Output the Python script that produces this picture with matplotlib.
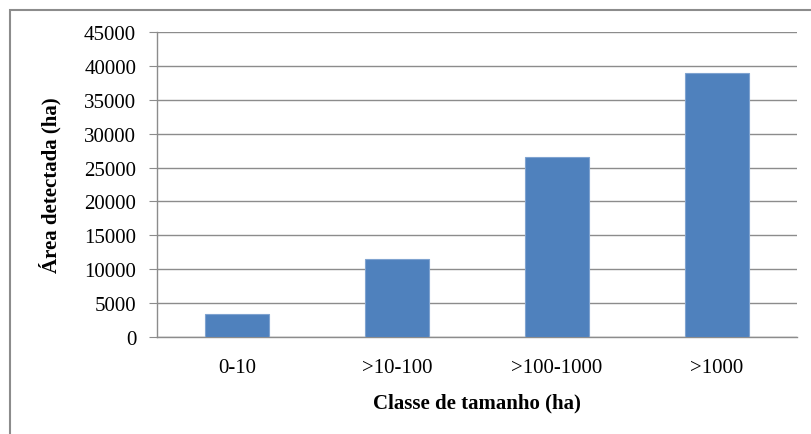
import matplotlib
matplotlib.use("Agg")
import matplotlib.pyplot as plt
from matplotlib.patches import Rectangle

categories = ["0-10", ">10-100", ">100-1000", ">1000"]
area_ha = [3400, 11450, 26600, 38900]
yticks = [0, 5000, 10000, 15000, 20000, 25000, 30000, 35000, 40000, 45000]

plt.rcParams["font.family"] = ["Liberation Serif", "DejaVu Serif"]

W, H = 811, 435
fig = plt.figure(figsize=(W / 100, H / 100), dpi=100)
ax = fig.add_axes([157 / W, 1 - 338 / H, 640 / W, 305 / H])

x = list(range(len(categories)))
ax.bar(x, area_ha, width=0.4, color="#4F81BD", edgecolor="#7FA3D0", lw=0.8, zorder=3)

ax.set_xlim(-0.5, len(categories) - 0.5)
ax.set_ylim(0, 45000)
ax.set_yticks(yticks)
ax.set_xticks(x)
ax.set_xticklabels(categories, fontsize=15)
ax.tick_params(axis="y", labelsize=15, length=6, color="#8C8C8C", pad=9)
ax.tick_params(axis="x", length=0, pad=15)
ax.grid(axis="y", color="#8C8C8C", lw=1.0, zorder=0)
ax.set_axisbelow(True)
for s in ("top", "right"):
    ax.spines[s].set_visible(False)
for s in ("left", "bottom"):
    ax.spines[s].set_color("#8C8C8C")
    ax.spines[s].set_linewidth(1.0)

ax.set_ylabel("Área detectada (ha)", fontsize=15, fontweight="bold", labelpad=16)
ax.set_xlabel("Classe de tamanho (ha)", fontsize=15, fontweight="bold", labelpad=11)

# outer chart border (right and bottom edges fall outside the image)
fig.patches.append(Rectangle((10 / W, -0.05), 1.0, 1.05 - 11 / H,
                             transform=fig.transFigure, fill=False,
                             edgecolor="#8C8C8C", lw=1.5))

fig.savefig("out.png", dpi=100)
